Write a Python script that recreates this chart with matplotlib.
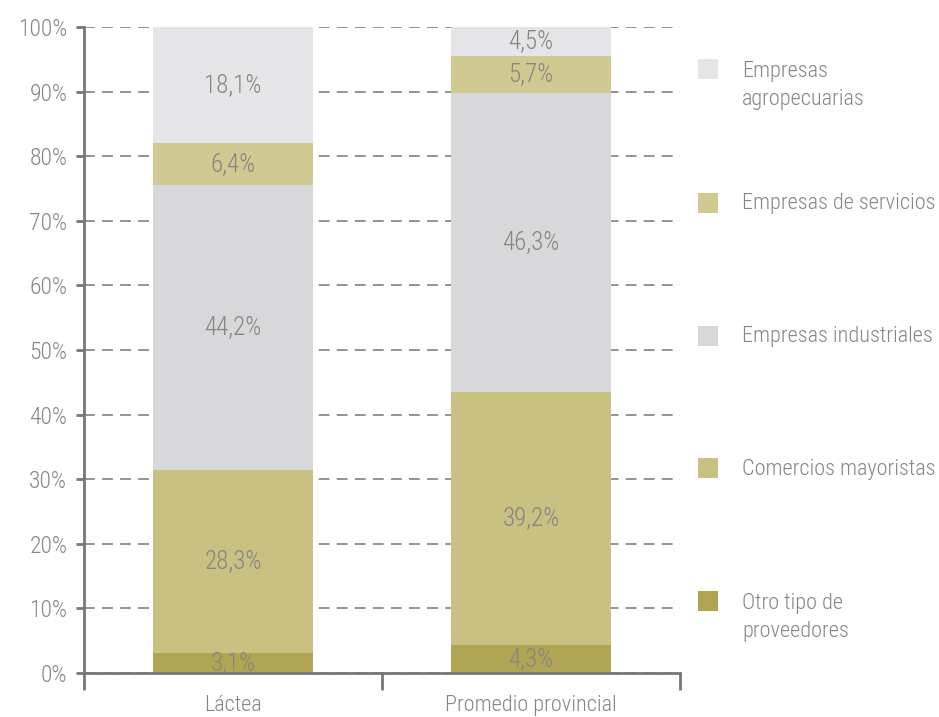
import matplotlib
matplotlib.use("Agg")
import matplotlib.pyplot as plt
from matplotlib.patches import Rectangle
import numpy as np

plt.rcParams['font.family'] = ['Roboto Condensed', 'DejaVu Sans']
plt.rcParams['font.weight'] = 'light'

categorias = ["Láctea", "Promedio provincial"]
series = ["Otro tipo de\nproveedores", "Comercios mayoristas", "Empresas industriales",
          "Empresas de servicios", "Empresas\nagropecuarias"]
valores = {
    "Otro tipo de\nproveedores": [3.1, 4.3],
    "Comercios mayoristas": [28.3, 39.2],
    "Empresas industriales": [44.2, 46.3],
    "Empresas de servicios": [6.4, 5.7],
    "Empresas\nagropecuarias": [18.1, 4.5],
}
colores = ["#b0a552", "#c8c182", "#d8d8da", "#d0c991", "#e5e5e7"]
etiquetas_y = ["0%", "10%", "20%", "30%", "40%", "50%", "60%", "70%", "80%", "90%", "100%"]

gris = "#858585"
fig = plt.figure(figsize=(9.39, 7.17), dpi=100)
ax = fig.add_axes([84/939, 1 - 673/717, (680-84)/939, (673-27)/717])

x = np.arange(len(categorias))
base = np.zeros(len(categorias))
for s, c in zip(series, colores):
    v = np.array(valores[s])
    ax.bar(x, v, bottom=base, width=0.54, color=c, edgecolor='none', zorder=2)
    for xi, b, vi in zip(x, base, v):
        ax.text(xi, b + vi / 2, f"{vi:.1f}%".replace(".", ","), ha='center', va='center',
                fontsize=18, color=gris, zorder=3)
    base = base + v

ax.set_xlim(-0.5, 1.5)
ax.set_ylim(0, 100)
ax.set_yticks(np.arange(0, 101, 10))
ax.set_yticklabels(etiquetas_y)
ax.yaxis.grid(True, linestyle=(0, (6, 4)), color='#8a8a8a', linewidth=1.3, zorder=1)
ax.set_axisbelow(True)

ax.set_xticks(x)
ax.set_xticklabels(categorias)
ax.set_xticks([-0.5, 0.5, 1.5], minor=True)
ax.tick_params(axis='x', which='major', length=0, pad=16, labelsize=16, labelcolor=gris)
ax.tick_params(axis='x', which='minor', length=12, width=2, color='#777777')
ax.tick_params(axis='y', length=6, width=2, color='#777777', labelsize=17, labelcolor=gris, pad=6)

for side in ['top', 'right']:
    ax.spines[side].set_visible(False)
for side in ['left', 'bottom']:
    ax.spines[side].set_color('#777777')
    ax.spines[side].set_linewidth(2)

# leyenda manual
y_leg = [69, 203, 336, 468, 601]
orden = list(zip(series, colores))[::-1]
for (s, c), yp in zip(orden, y_leg):
    fig.add_artist(Rectangle((698/939, 1 - (yp + 10)/717), 20/939, 20/717,
                             transform=fig.transFigure, color=c, lw=0))
    lineas = s.split("\n")
    off = 2 if len(lineas) > 1 else 1
    for k, linea in enumerate(lineas):
        fig.text(742/939, 1 - (yp + off + 28 * k)/717, linea, ha='left', va='center',
                 fontsize=16, color=gris)

fig.savefig("out.png", dpi=100)
